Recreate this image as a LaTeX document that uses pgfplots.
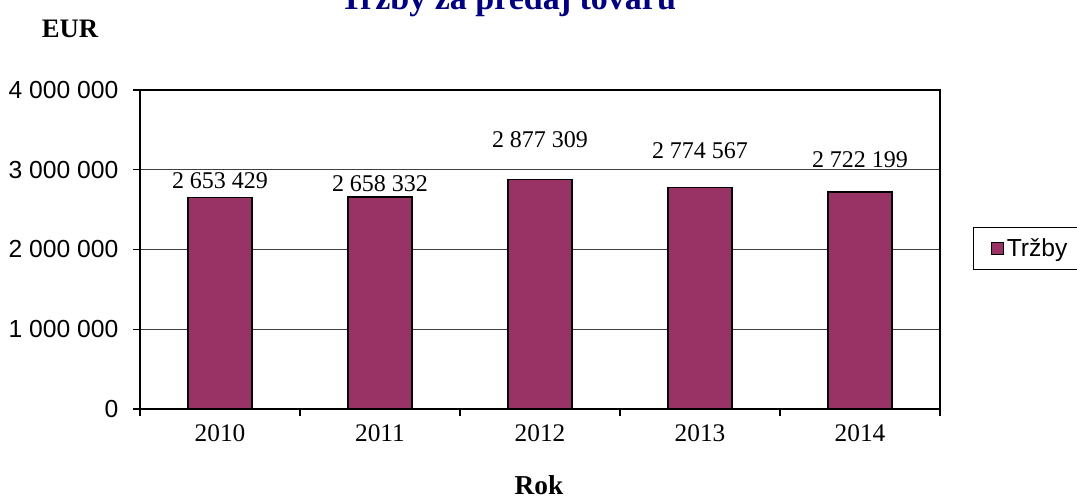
\documentclass[border=0pt]{standalone}
\usepackage{fontspec}
\setmainfont{Liberation Serif}
\newfontfamily\arial{Liberation Sans}
\usepackage{pgfplots}
\pgfplotsset{compat=1.18}
\definecolor{plum}{HTML}{993366}
\definecolor{titleblue}{HTML}{000080}
\begin{document}
\begin{tikzpicture}[x=0.75pt,y=0.75pt]
\begin{axis}[
  at={(105pt,67.5pt)}, anchor=south west,
  scale only axis, width=600pt, height=239.25pt,
  xmin=-0.5, xmax=4.5, ymin=0, ymax=4000000,
  axis line style={black, line width=0.8pt},
  tick align=outside, major tick length=5.25pt,
  tick style={black, line width=0.8pt},
  xtick pos=left, ytick pos=left,
  xtick={-0.5,0.5,1.5,2.5,3.5,4.5}, xticklabels={},
  extra x ticks={0,1,2,3,4},
  extra x tick labels={2010,2011,2012,2013,2014},
  extra x tick style={major tick length=0pt, grid=none,
    tick label style={font=\fontsize{19}{21}\selectfont, yshift=-8.5pt}},
  ytick={0,1000000,2000000,3000000,4000000},
  yticklabels={0,1 000 000,2 000 000,3 000 000,4 000 000},
  yticklabel style={font=\arial\fontsize{18.5}{20}\selectfont, xshift=-7.5pt},
  ymajorgrids, grid style={black!75, line width=0.75pt},
  scaled y ticks=false,
  legend style={at={(1.041,0.503)}, anchor=west, draw=black, line width=0.75pt,
    font=\arial\fontsize{18.5}{20}\selectfont, inner xsep=13pt, inner ysep=6pt},
  legend image code/.code={\draw[fill=plum, draw=black, line width=1.1pt] (0pt,-4.5pt) rectangle (9pt,4.5pt);},
]
\addplot[ybar, bar width=48pt, bar shift=0pt, fill=plum, draw=black, line width=1.1pt]
  coordinates {(0,2653429) (1,2658332) (2,2877309) (3,2774567) (4,2722199)};
\addlegendentry{Tržby}
\node[anchor=base, font=\fontsize{18}{20}\selectfont] at (axis cs:0,2771000) {2 653 429};
\node[anchor=base, font=\fontsize{18}{20}\selectfont] at (axis cs:1,2721000) {2 658 332};
\node[anchor=base, font=\fontsize{18}{20}\selectfont] at (axis cs:2,3273000) {2 877 309};
\node[anchor=base, font=\fontsize{18}{20}\selectfont] at (axis cs:3,3147000) {2 774 567};
\node[anchor=base, font=\fontsize{18}{20}\selectfont] at (axis cs:4,3034000) {2 722 199};
\end{axis}
\node[anchor=base, text=titleblue, font=\bfseries\fontsize{25.5}{28}\selectfont] at (508,489) {Tržby za predaj tovaru};
\node[anchor=base, font=\bfseries\fontsize{20}{22}\selectfont] at (70,461) {EUR};
\node[anchor=base, font=\bfseries\fontsize{20.5}{22}\selectfont] at (539,4) {Rok};
\pgfresetboundingbox
\useasboundingbox (0,0) rectangle (1077,499);
\end{tikzpicture}
\end{document}
